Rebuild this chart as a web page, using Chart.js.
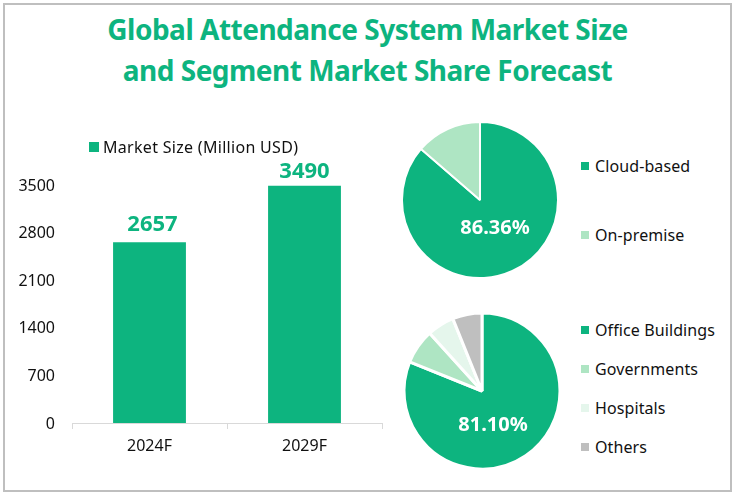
<!DOCTYPE html>
<html>
<head>
<meta charset="utf-8">
<script src="https://cdn.jsdelivr.net/npm/chart.js@4"></script>
<style>
html, body { margin: 0; padding: 0; background: #fff; }
#frame { position: relative; width: 736px; height: 496px; overflow: hidden; font-family: "Noto Sans", sans-serif; color: #111; }
#border { position: absolute; left: 3px; top: 3px; width: 725px; height: 485px; border: 2px solid #bfbfbf; }
#title { position: absolute; left: 0; top: 9px; width: 735px; text-align: center; color: #0db47f; font-weight: 700; font-size: 28px; line-height: 41px; letter-spacing: -0.5px; }
canvas { position: absolute; }
.item { position: absolute; font-size: 16px; line-height: 20px; white-space: nowrap; letter-spacing: 0.1px; }
.item i { position: absolute; left: -14px; top: 6px; width: 8px; height: 8px; }
#sizeLegend { letter-spacing: 0.3px; }
#sizeLegend i { left: -14px; top: 5px; width: 10px; height: 10px; }
</style>
</head>
<body>
<div id="frame">
  <div id="border"></div>
  <div id="title">Global Attendance System Market Size<br>and Segment Market Share Forecast</div>
  <canvas id="barChart" width="386" height="470" style="left:0;top:0"></canvas>
  <canvas id="pieType" width="170" height="170" style="left:395px;top:115px"></canvas>
  <canvas id="pieApp" width="170" height="170" style="left:397px;top:306px"></canvas>
</div>
<script>
const GREEN = '#0db47f';

const years = ['2024F', '2029F'];
const marketSize = [2657, 3490];
const sizeTicks = [0, 700, 1400, 2100, 2800, 3500];

const typeLabels = ['Cloud-based', 'On-premise'];
const typeShares = [86.36, 13.64];
const typeColors = [GREEN, '#aee5c3'];

const appLabels = ['Office Buildings', 'Governments', 'Hospitals', 'Others'];
const appShares = [81.10, 7.2, 5.6, 6.1];
const appColors = [GREEN, '#aee5c3', '#e5f6ec', '#bfbfbf'];

Chart.defaults.font.family = '"Noto Sans", sans-serif';
Chart.defaults.animation = false;

// html legend rows
function addLegend(labels, colors, x, ys, id) {
  const frame = document.getElementById('frame');
  labels.forEach((name, i) => {
    const row = document.createElement('div');
    row.className = 'item';
    if (id) row.id = id;
    row.style.left = x + 'px';
    row.style.top = (ys[i] - 10) + 'px';
    row.innerHTML = '<i style="background:' + colors[i] + '"></i>' + name;
    frame.appendChild(row);
  });
}

addLegend(['Market Size (Million USD)'], [GREEN], 103, [147], 'sizeLegend');
addLegend(typeLabels, typeColors, 595, [166, 235]);
addLegend(appLabels, appColors, 595, [330, 369, 408, 447]);

const barLabels = {
  id: 'barLabels',
  afterDatasetsDraw(chart) {
    const ctx = chart.ctx;
    ctx.save();
    ctx.fillStyle = GREEN;
    ctx.font = 'bold 22px "Noto Sans", sans-serif';
    ctx.textAlign = 'center';
    ctx.textBaseline = 'bottom';
    chart.getDatasetMeta(0).data.forEach((bar, i) => {
      // the two labels do not sit at the same gap above their bars
      const nudge = i === 0 ? [3, -7] : [0, -3];
      ctx.fillText(marketSize[i], bar.x + nudge[0], bar.y + nudge[1]);
    });
    ctx.restore();
  }
};

new Chart(document.getElementById('barChart'), {
  type: 'bar',
  data: {
    labels: years,
    datasets: [{ data: marketSize, backgroundColor: GREEN, barPercentage: 0.94, categoryPercentage: 0.5 }]
  },
  options: {
    responsive: false,
    layout: { padding: { top: 185, right: 4 } },
    plugins: { legend: { display: false }, tooltip: { enabled: false } },
    scales: {
      x: {
        afterFit(axis) { axis.height = 47; },
        border: { color: '#d9d9d9' },
        grid: { offset: true, drawOnChartArea: false, color: '#d9d9d9', tickLength: 6 },
        ticks: { color: '#111', font: { size: 16 }, padding: 8, maxRotation: 0 }
      },
      y: {
        min: 0,
        max: 3500,
        afterFit(axis) { axis.width = 72; },
        afterBuildTicks(axis) { axis.ticks = sizeTicks.map(v => ({ value: v })); },
        border: { display: false },
        grid: { display: false, drawTicks: false },
        ticks: { color: '#111', font: { size: 16 }, padding: 17, labelOffset: 1, callback: v => String(v) }
      }
    }
  },
  plugins: [barLabels]
});

// white percentage on the big slice
function pieLabel(text, dx, dy) {
  return {
    id: 'pieLabel',
    afterDatasetsDraw(chart) {
      const arc = chart.getDatasetMeta(0).data[0];
      const ctx = chart.ctx;
      ctx.save();
      ctx.fillStyle = '#fff';
      ctx.font = 'bold 20px "Noto Sans", sans-serif';
      ctx.textAlign = 'center';
      ctx.textBaseline = 'middle';
      ctx.fillText(text, arc.x + dx, arc.y + dy);
      ctx.restore();
    }
  };
}

function makePie(id, labels, values, colors, text, dx, dy, gap) {
  new Chart(document.getElementById(id), {
    type: 'pie',
    data: { labels: labels, datasets: [{ data: values, backgroundColor: colors, borderColor: '#fff', borderWidth: gap }] },
    options: {
      responsive: false,
      radius: 78,
      plugins: { legend: { display: false }, tooltip: { enabled: false } }
    },
    plugins: [pieLabel(text, dx, dy)]
  });
}

makePie('pieType', typeLabels, typeShares, typeColors, '86.36%', 15, 28, 2);
makePie('pieApp', appLabels, appShares, appColors, '81.10%', 11, 34, 3);
</script>
</body>
</html>
